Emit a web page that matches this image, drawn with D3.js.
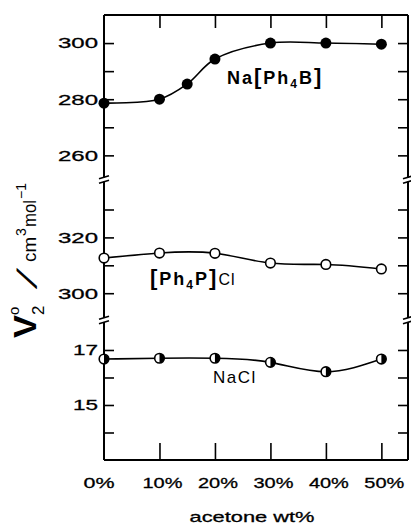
<!DOCTYPE html>
<html><head><meta charset="utf-8">
<script src="https://cdn.jsdelivr.net/npm/d3@7"></script>
<style>
html,body{margin:0;padding:0;background:#fff;}
svg{display:block;font-family:"Liberation Sans",Arial,sans-serif;}
</style></head>
<body><svg id="c" width="411" height="525"></svg>
<script>
// ---- data ----
const naPh4BX = [0, 10, 15, 20, 30, 40, 50];
const naPh4BV = [278.6, 280.0, 285.4, 294.3, 300.0, 300.0, 299.6];
const ph4pClX = [0, 10, 20, 30, 40, 50];
const ph4pClV = [312.6, 314.4, 314.3, 310.8, 310.3, 308.7];
const naClX = [0, 10, 20, 30, 40, 50];
const naClV = [16.67, 16.70, 16.70, 16.55, 16.21, 16.67];
const xTicks = [0, 10, 20, 30, 40, 50];
const xTickLabels = ["0%", "10%", "20%", "30%", "40%", "50%"];
const y1Major = [260, 280, 300], y1Minor = [270, 290];
const y2Major = [300, 320], y2Minor = [310, 330];
const y3Major = [15, 17], y3Minor = [14, 16];

const svg = d3.select("#c");
const L = 104, R = 408, T = 15, B = 460, BR1 = 179.5, BR2 = 320;

const x = d3.scaleLinear().domain([0, 54.8]).range([L, R]);
const y1 = d3.scaleLinear().domain([251.4, 310]).range([BR1, T]);
const y2 = d3.scaleLinear().domain([290.4, 340.75]).range([BR2, BR1]);
const y3 = d3.scaleLinear().domain([13, 18.09]).range([B, BR2]);

const tickFont = g => g.selectAll("text")
  .attr("font-size", 15).attr("fill", "#000")
  .attr("stroke", "#000").attr("stroke-width", 0.3)
  .attr("font-family", "Liberation Sans, Arial, sans-serif")
  .attr("lengthAdjust", "spacingAndGlyphs")
  .attr("textLength", function() { return this.textContent.length === 3 ? 40 : 25; });
const clean = g => { g.select(".domain").remove(); g.selectAll("line").attr("stroke", "#000").attr("stroke-width", 1.6); };

function yAxes(scale, major, minor) {
  svg.append("g").attr("transform", `translate(${L},0)`)
    .call(d3.axisLeft(scale).tickValues(major).tickSize(-10).tickPadding(6).tickFormat(d3.format("d")))
    .call(clean).call(tickFont);
  svg.append("g").attr("transform", `translate(${L},0)`)
    .call(d3.axisLeft(scale).tickValues(minor).tickSize(-10).tickFormat(""))
    .call(clean);
  svg.append("g").attr("transform", `translate(${R},0)`)
    .call(d3.axisRight(scale).tickValues(major.concat(minor)).tickSize(-10).tickFormat(""))
    .call(clean);
}
yAxes(y1, y1Major, y1Minor);
yAxes(y2, y2Major, y2Minor);
yAxes(y3, y3Major, y3Minor);

// x axes
svg.append("g").attr("transform", `translate(0,${B})`)
  .call(d3.axisBottom(x).tickValues(xTicks.slice(1)).tickSize(-17).tickFormat(""))
  .call(clean);
svg.append("g").attr("transform", `translate(0,${T})`)
  .call(d3.axisTop(x).tickValues(xTicks.slice(1)).tickSize(-13).tickFormat(""))
  .call(clean);
svg.append("g").selectAll("text").data(xTicks).join("text")
  .attr("x", (d) => x(d) + (d === 0 ? -5 : 3)).attr("y", 488)
  .attr("text-anchor", "middle").attr("font-size", 15)
  .attr("stroke", "#000").attr("stroke-width", 0.3)
  .attr("lengthAdjust", "spacingAndGlyphs")
  .attr("textLength", (d, i) => xTickLabels[i].length === 3 ? 40 : 31)
  .text((d, i) => xTickLabels[i]);

// frame
const frame = svg.append("g").attr("stroke", "#000").attr("stroke-width", 2).attr("fill", "none");
frame.append("line").attr("x1", L).attr("x2", R).attr("y1", T).attr("y2", T);
frame.append("line").attr("x1", L).attr("x2", R).attr("y1", B).attr("y2", B);
frame.append("line").attr("x1", L).attr("x2", L).attr("y1", T).attr("y2", B);
frame.append("line").attr("x1", R).attr("x2", R).attr("y1", T).attr("y2", B);

// break marks
[BR1, BR2].forEach(by => {
  [L, R].forEach(bx => {
    const g = svg.append("g");
    g.append("rect").attr("x", bx - 2).attr("y", by - 2).attr("width", 4).attr("height", 4).attr("fill", "#fff");
    [-2.2, 2.2].forEach(o => g.append("line")
      .attr("x1", bx - 5).attr("x2", bx + 5).attr("y1", by + o + 1.5).attr("y2", by + o - 1.5)
      .attr("stroke", "#000").attr("stroke-width", 1.6));
  });
});

// curves
function series(xs, vs, scale, curve) {
  const pts = xs.map((d, i) => [x(d), scale(vs[i])]);
  svg.append("path").attr("d", d3.line().curve(curve)(pts))
    .attr("fill", "none").attr("stroke", "#000").attr("stroke-width", 1.6);
  return pts;
}
const p1 = series(naPh4BX, naPh4BV, y1, d3.curveCatmullRom.alpha(0.5));
const p2 = series(ph4pClX, ph4pClV, y2, d3.curveNatural);
const p3 = series(naClX, naClV, y3, d3.curveNatural);

svg.append("g").selectAll("circle").data(p1).join("circle")
  .attr("cx", d => d[0]).attr("cy", d => d[1]).attr("r", 5.5).attr("fill", "#000");
svg.append("g").selectAll("circle").data(p2).join("circle")
  .attr("cx", d => d[0]).attr("cy", d => d[1]).attr("r", 4.8)
  .attr("fill", "#fff").attr("stroke", "#000").attr("stroke-width", 1.6);
const hg = svg.append("g").selectAll("g").data(p3).join("g")
  .attr("transform", d => `translate(${d[0]},${d[1]})`);
hg.append("circle").attr("r", 4.8).attr("fill", "#fff").attr("stroke", "#000").attr("stroke-width", 1.6);
hg.append("path").attr("d", d3.arc()({innerRadius: 0, outerRadius: 4.8, startAngle: 0, endAngle: Math.PI})).attr("fill", "#000");

// annotations
function label(xp, yp, parts) {
  const t = svg.append("text").attr("x", xp).attr("y", yp).attr("fill", "#000");
  parts.forEach(p => {
    const s = t.append("tspan").text(p.t).attr("font-size", p.fs || 18)
      .attr("font-weight", p.fw || "bold").attr("letter-spacing", p.ls || "2px");
    if (p.dy) s.attr("dy", p.dy);
  });
  return t;
}
label(227, 84, [{t: "Na"}, {t: "[", fs: 22}, {t: "Ph"}, {t: "4", fs: 12, dy: 4}, {t: "B", dy: -4}, {t: "]", fs: 22}]);
label(150, 285, [{t: "[", fs: 22}, {t: "Ph"}, {t: "4", fs: 12, dy: 4}, {t: "P", dy: -4}, {t: "]", fs: 22}, {t: "Cl", fs: 16, fw: "normal", ls: "1px"}]);
label(213, 383, [{t: "NaCl", fs: 17, fw: "normal", ls: "1.5px"}]);

// x title
svg.append("text").attr("x", 252).attr("y", 522).attr("text-anchor", "middle")
  .attr("font-size", 15).attr("lengthAdjust", "spacingAndGlyphs").attr("textLength", 125)
  .attr("stroke", "#000").attr("stroke-width", 0.3)
  .text("acetone wt%");

// y title (rotated; positions measured along the text from its start)
const yg = svg.append("g").attr("transform", "translate(36,338) rotate(-90)");
function yPart(t, pos, base, fs, opts = {}) {
  const e = yg.append("text").attr("x", pos).attr("y", base).attr("font-size", fs).attr("fill", "#000").text(t);
  if (opts.fw) e.attr("font-weight", opts.fw);
  if (opts.len) e.attr("textLength", opts.len).attr("lengthAdjust", "spacingAndGlyphs");
  return e;
}
yPart("V", 0, 0, 31, {fw: "bold", len: 23});
yPart("2", 23, 8, 17);
yPart("o", 23, -17, 15);
yg.append("text").attr("transform", "translate(50,0) skewX(-32)")
  .attr("font-size", 26).attr("fill", "#000").attr("stroke", "#000").attr("stroke-width", 1.2).text("/");
yPart("cm", 76, 0, 19, {len: 25});
yPart("3", 102, -10, 14);
yPart("mol", 111, 0, 19, {len: 27});
yPart("−1", 139, -10, 14, {len: 16});
</script></body></html>
